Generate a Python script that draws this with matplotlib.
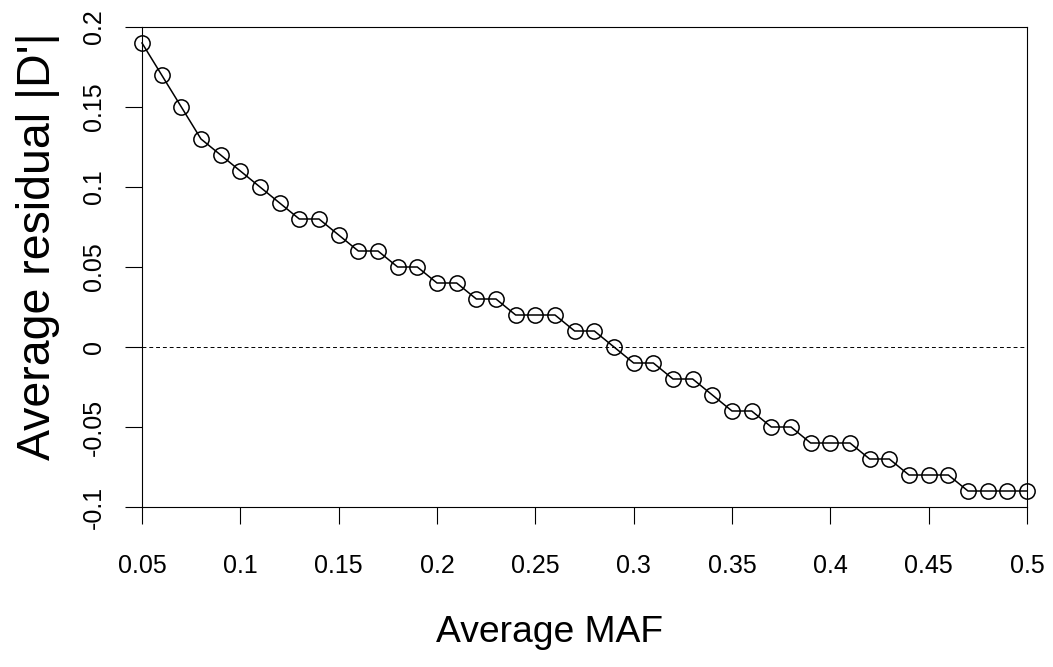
import matplotlib
matplotlib.use("Agg")
import matplotlib.pyplot as plt

maf = [0.05, 0.06, 0.07, 0.08, 0.09, 0.10, 0.11, 0.12, 0.13, 0.14,
       0.15, 0.16, 0.17, 0.18, 0.19, 0.20, 0.21, 0.22, 0.23, 0.24,
       0.25, 0.26, 0.27, 0.28, 0.29, 0.30, 0.31, 0.32, 0.33, 0.34,
       0.35, 0.36, 0.37, 0.38, 0.39, 0.40, 0.41, 0.42, 0.43, 0.44,
       0.45, 0.46, 0.47, 0.48, 0.49, 0.50]
residual = [0.19, 0.17, 0.15, 0.13, 0.12, 0.11, 0.10, 0.09, 0.08, 0.08,
            0.07, 0.06, 0.06, 0.05, 0.05, 0.04, 0.04, 0.03, 0.03, 0.02,
            0.02, 0.02, 0.01, 0.01, 0.00, -0.01, -0.01, -0.02, -0.02, -0.03,
            -0.04, -0.04, -0.05, -0.05, -0.06, -0.06, -0.06, -0.07, -0.07, -0.08,
            -0.08, -0.08, -0.09, -0.09, -0.09, -0.09]
xticks = [0.05, 0.1, 0.15, 0.2, 0.25, 0.3, 0.35, 0.4, 0.45, 0.5]
xticklabels = ["0.05", "0.1", "0.15", "0.2", "0.25", "0.3", "0.35", "0.4", "0.45", "0.5"]
yticks = [-0.1, -0.05, 0, 0.05, 0.1, 0.15, 0.2]
yticklabels = ["-0.1", "-0.05", "0", "0.05", "0.1", "0.15", "0.2"]

plt.rcParams['font.family'] = ['Liberation Sans', 'DejaVu Sans']

fig = plt.figure(figsize=(10.53, 6.67), dpi=100)
L, R, T, B = 142, 1027, 27, 507
ax = fig.add_axes([L/1053, 1-B/667, (R-L)/1053, (B-T)/667])

ax.axhline(0, color='black', lw=0.7, ls=(0, (4, 3)))
ax.plot(maf, residual, color='black', lw=1.1, marker='o', markersize=11,
        markerfacecolor='none', markeredgecolor='black', markeredgewidth=1.1,
        clip_on=False, zorder=3)

ax.set_xlim(0.05, 0.5)
ax.set_ylim(-0.1, 0.2)
ax.set_xticks(xticks)
ax.set_xticklabels(xticklabels)
ax.set_yticks(yticks)
ax.set_yticklabels(yticklabels, rotation=90, va='center')
ax.tick_params(axis='both', direction='out', length=12, width=0.8, labelsize=18)
ax.tick_params(axis='x', pad=22)
ax.tick_params(axis='y', pad=14)
for s in ax.spines.values():
    s.set_linewidth(0.8)

ax.set_xlabel("Average MAF", fontsize=26.8, va='center')
ax.xaxis.set_label_coords((549-L)/(R-L), (B-632)/(B-T))
ax.set_ylabel("Average residual |D'|", fontsize=33.5, va='center')
ax.yaxis.set_label_coords((38-L)/(R-L), (B-246)/(B-T))

fig.savefig("out.png", dpi=100)
